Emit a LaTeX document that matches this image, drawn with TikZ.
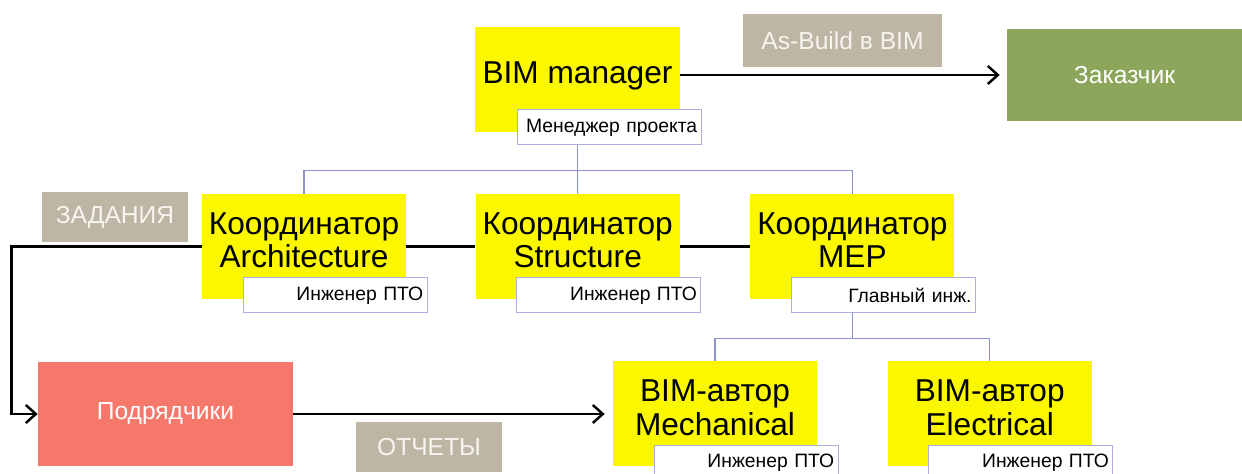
\documentclass[tikz,border=0pt]{standalone}
\usepackage{fontspec}
\setmainfont{Liberation Sans}
\usetikzlibrary{arrows.meta,positioning,calc}
\definecolor{leadyel}{HTML}{FAF700}
\definecolor{tagtan}{HTML}{BDB6A4}
\definecolor{tagtext}{HTML}{F7F5EE}
\definecolor{custgreen}{HTML}{8CA75B}
\definecolor{contrred}{HTML}{F5786A}
\definecolor{treeline}{HTML}{8A93CC}
\definecolor{postline}{HTML}{A9B0E0}

\begin{document}
\begin{tikzpicture}[
  lead/.style={fill=leadyel,minimum width=4.08cm,minimum height=2.1cm,inner sep=0pt,align=center,font=\fontsize{18}{19}\selectfont,text depth=0.26cm},
  post/.style={draw=postline,line width=0.6pt,fill=white,anchor=north west,minimum width=3.68cm,minimum height=0.7cm,text width=3.52cm,inner xsep=0.08cm,inner ysep=0pt,align=right,font=\fontsize{11}{13}\selectfont},
  tag/.style={fill=tagtan,text=tagtext,minimum width=2.92cm,minimum height=1cm,inner sep=0pt,font=\fontsize{14}{16}\selectfont},
  party/.style={text=white,inner sep=0pt,font=\fontsize{14}{16}\selectfont},
  tree/.style={draw=treeline,line width=0.6pt},
  flow/.style={draw=black,line width=1.4pt},
  >={Straight Barb[length=2mm,width=3.6mm]}
]
\useasboundingbox (0,0) rectangle (24.84,-9.48);
\node[lead,minimum width=4.1cm] (mgr) at (11.55,-1.59) {BIM manager};
\node[post] (mgrpost) at ($(mgr.south west)+(0.84,0.46)$) {Менеджер проекта};
\node[tag,minimum width=3.98cm,minimum height=1.06cm] (asbuilt) at (16.85,-0.81) {As-Build в BIM};
\node[party,fill=custgreen,minimum width=4.7cm,minimum height=1.84cm] (cust) at (22.49,-1.5) {Заказчик};
% coordinators
\node[lead] (arch) at (6.08,-4.93) {Координатор\\Architecture};
\node[lead,right=1.38cm of arch] (struct) {Координатор\\Structure};
\node[lead,right=1.4cm of struct] (mep) {Координатор\\MEP};
\node[post] (archpost) at ($(arch.south west)+(0.82,0.44)$) {Инженер ПТО};
\node[post] (structpost) at ($(struct.south west)+(0.82,0.44)$) {Инженер ПТО};
\node[post] (meppost) at ($(mep.south west)+(0.82,0.44)$) {Главный инж.};
\node[tag] (tasks) at (2.3,-4.34) {ЗАДАНИЯ};
% contractors and authors
\node[party,fill=contrred,minimum width=5.1cm,minimum height=2.08cm] (contr) at (3.31,-8.28) {Подрядчики};
\node[tag] (reports) at (8.58,-8.94) {ОТЧЕТЫ};
\node[lead] (mech) at (14.3,-8.28) {BIM-автор\\Mechanical};
\node[lead,right=1.4cm of mech] (elec) {BIM-автор\\Electrical};
\node[post] (mechpost) at ($(mech.south west)+(0.82,0.44)$) {Инженер ПТО};
\node[post] (elecpost) at ($(elec.south west)+(0.82,0.44)$) {Инженер ПТО};
% tree
\coordinate (busA) at ($(mgrpost.south)+(0,-0.5)$);
\coordinate (busB) at ($(meppost.south)+(0,-0.5)$);
\draw[tree] (mgr.center |- mgrpost.south) -- (mgr.center |- busA) -| (arch.north);
\draw[tree] (mgr.center |- busA) -| (mep.north);
\draw[tree] (mgr.center |- busA) -- (struct.north);
\draw[tree] (mep.center |- meppost.south) -- (mep.center |- busB) -| (mech.north);
\draw[tree] (mep.center |- busB) -| (elec.north);
% flows
\draw[flow,->,shorten >=0.14cm] (mgr.east |- cust.west) -- (cust.west);
\draw[flow] (arch.east) -- (struct.west);
\draw[flow] (struct.east) -- (mep.west);
\draw[flow,->] (arch.west) -- ++(-3.8,0) |- (contr.west);
\draw[flow,->,shorten >=0.16cm] (contr.east) -- (mech.west);
\end{tikzpicture}
\end{document}
